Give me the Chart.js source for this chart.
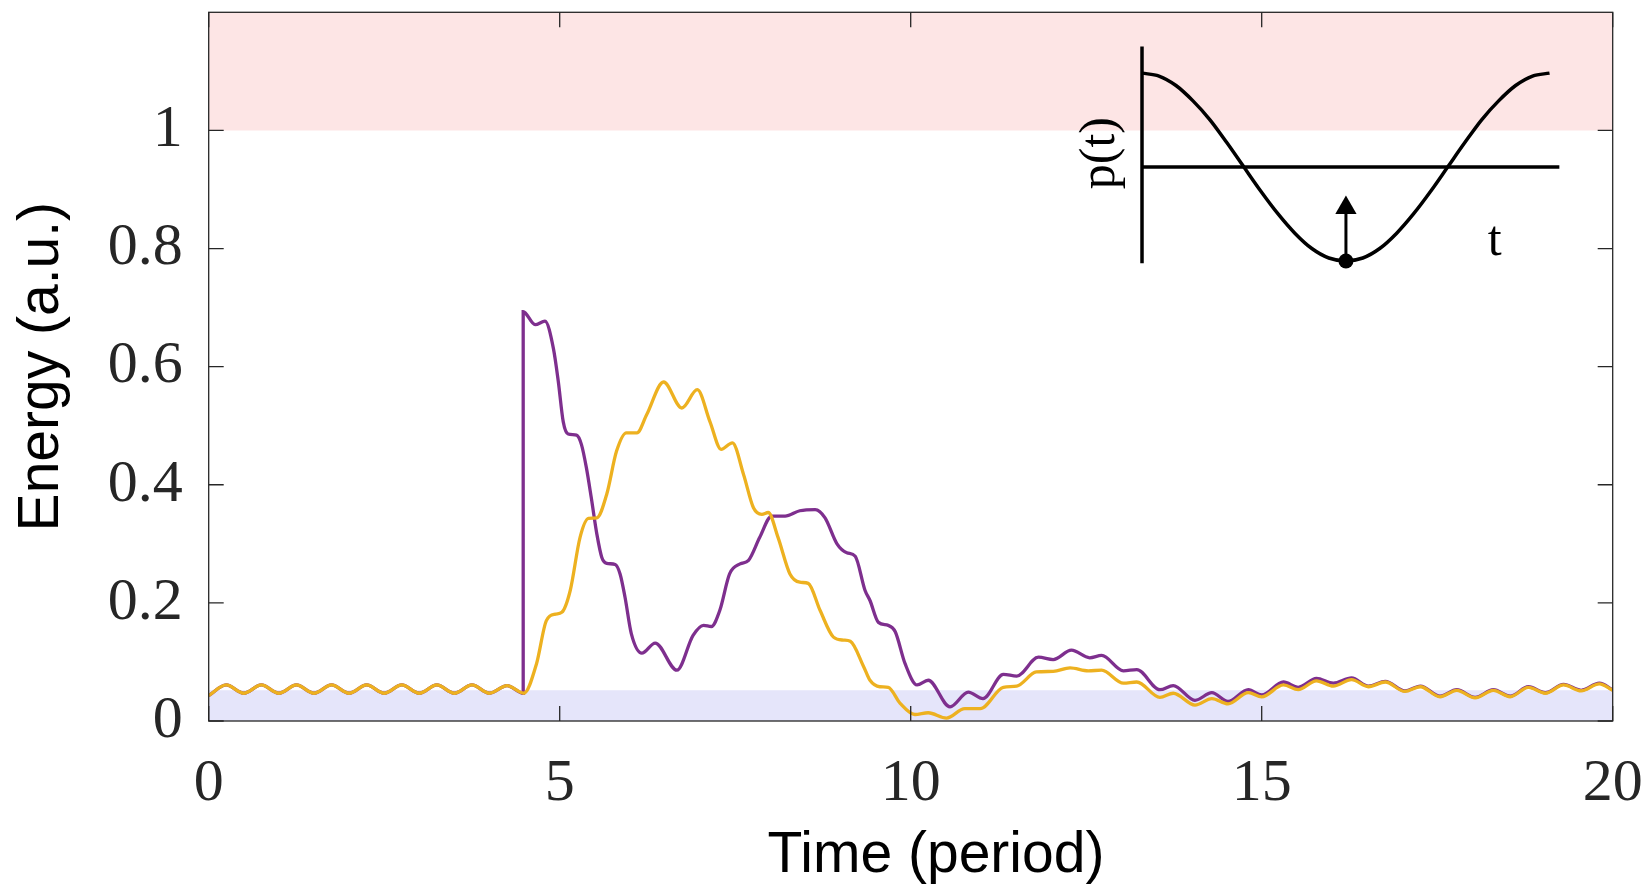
<!DOCTYPE html>
<html><head><meta charset="utf-8">
<script src="https://cdn.jsdelivr.net/npm/chart.js@4.4.0/dist/chart.umd.min.js"></script>
<style>html,body{margin:0;padding:0;background:#fff;}canvas{display:block;}</style>
</head><body>
<canvas id="c" width="1650" height="886"></canvas>
<script>
// ---- data ----
const xTicks = [0, 5, 10, 15, 20];
const yTicks = [0, 0.2, 0.4, 0.6, 0.8, 1];
const xLabel = 'Time (period)';
const yLabel = 'Energy (a.u.)';

const purpleTime = [0,0.25,0.5,0.75,1,1.25,1.5,1.75,2,2.25,2.5,2.75,3,3.25,3.5,3.75,4,4.25,4.48,
 4.48,4.65,4.79,4.91,4.98,5.05,5.12,5.24,5.31,5.38,5.45,5.53,5.60,5.67,5.79,5.86,5.93,6.02,6.17,6.36,
 6.67,6.90,7.05,7.16,7.28,7.42,7.57,7.69,7.85,8.02,8.21,8.42,8.64,8.78,8.95,9.09,9.21,9.35,9.42,9.54,
 9.68,9.78,9.92,10.09,10.25,10.56,10.82,11.03,11.32,11.51,11.82,12.03,12.29,12.55,12.72,13.03,13.22,13.55,13.74,14.05,
 14.29,14.52,14.81,15.00,15.31,15.52,15.78,16.02,16.28,16.52,16.76,17.04,17.26,17.54,17.78,18.04,18.30,18.54,18.80,19.04,
 19.30,19.55,19.81,20];
const purpleEnergy = [0.043,0.061,0.047,0.061,0.047,0.061,0.047,0.061,0.047,0.061,0.047,0.061,0.047,0.061,0.047,0.061,0.047,0.060,0.047,
 0.693,0.671,0.677,0.631,0.575,0.507,0.486,0.484,0.468,0.429,0.378,0.316,0.277,0.267,0.265,0.249,0.210,0.148,0.115,0.132,
 0.086,0.145,0.162,0.160,0.187,0.249,0.266,0.272,0.311,0.347,0.347,0.356,0.358,0.344,0.300,0.285,0.279,0.221,0.204,0.167,
 0.162,0.151,0.097,0.061,0.069,0.024,0.049,0.038,0.079,0.076,0.108,0.104,0.120,0.107,0.111,0.085,0.087,0.053,0.060,0.035,
 0.048,0.033,0.053,0.044,0.066,0.057,0.072,0.064,0.073,0.059,0.067,0.051,0.059,0.042,0.053,0.040,0.053,0.042,0.058,0.048,
 0.062,0.052,0.064,0.053];

const yellowTime = [0,0.25,0.5,0.75,1,1.25,1.5,1.75,2,2.25,2.5,2.75,3,3.25,3.5,3.75,4,4.25,4.49,
 4.67,4.81,4.94,5.03,5.15,5.29,5.41,5.53,5.67,5.81,5.95,6.10,6.24,6.48,6.74,6.96,7.14,7.30,7.46,7.62,
 7.76,7.88,7.97,8.11,8.28,8.42,8.54,8.71,8.90,9.04,9.14,9.33,9.42,9.56,9.68,9.85,10.06,10.25,10.51,10.77,
 10.99,11.32,11.51,11.79,12.03,12.27,12.53,12.72,13.03,13.22,13.55,13.74,14.05,14.29,14.52,14.81,15.00,15.31,15.52,15.78,
 16.02,16.28,16.52,16.76,17.04,17.26,17.54,17.78,18.04,18.30,18.54,18.80,19.04,19.30,19.55,19.81,20];
const yellowEnergy = [0.043,0.061,0.047,0.061,0.047,0.061,0.047,0.061,0.047,0.061,0.047,0.061,0.047,0.061,0.047,0.061,0.047,0.060,0.047,
 0.097,0.170,0.181,0.184,0.221,0.311,0.343,0.344,0.384,0.457,0.488,0.488,0.519,0.574,0.530,0.561,0.507,0.460,0.471,0.417,
 0.361,0.350,0.353,0.311,0.249,0.235,0.233,0.187,0.142,0.137,0.135,0.092,0.069,0.058,0.057,0.030,0.011,0.014,0.005,0.021,
 0.021,0.057,0.059,0.083,0.084,0.090,0.085,0.086,0.064,0.066,0.040,0.047,0.027,0.038,0.029,0.048,0.041,0.061,0.053,0.068,
 0.059,0.070,0.058,0.066,0.050,0.058,0.041,0.052,0.039,0.052,0.041,0.057,0.047,0.061,0.051,0.063,0.052];

// shaded bands (energy limits)
const highBand = [1, 1.2];
const lowBand = [0, 0.052];

// inset schematic p(t)
const insetTime = [13.295,13.537,13.779,14.021,14.263,14.505,14.746,14.988,15.230,15.472,15.714,15.956,16.198,
 16.440,16.681,16.923,17.165,17.407,17.649,17.891,18.133,18.375,18.617,18.858,19.100];
const insetSignal = [1.097,1.092,1.076,1.050,1.018,0.979,0.938,0.897,0.859,0.826,0.800,0.784,0.779,
 0.784,0.800,0.826,0.859,0.897,0.938,0.979,1.018,1.050,1.076,1.092,1.097];
const insetVAxisT = [13.295, 13.295];
const insetVAxisY = [0.775, 1.142];
const insetHAxisT = [13.295, 19.24];
const insetHAxisY = [0.938, 0.938];
const kickT = [16.2, 16.2];
const kickY = [0.779, 0.86];
const kickHeadY = 0.869;

const pts = (xs, ys) => xs.map((x, i) => ({x, y: ys[i]}));

const frame = {
  id: 'frame',
  afterDatasetsDraw(chart) {
    const {ctx, chartArea: a, scales: {x, y}} = chart;
    ctx.save();
    ctx.strokeStyle = '#262626';
    ctx.lineWidth = 1.3;
    ctx.strokeRect(a.left, a.top, a.right - a.left, a.bottom - a.top);
    const L = 15;
    ctx.beginPath();
    xTicks.forEach(v => { const p = x.getPixelForValue(v);
      ctx.moveTo(p, a.bottom); ctx.lineTo(p, a.bottom - L);
      ctx.moveTo(p, a.top); ctx.lineTo(p, a.top + L); });
    yTicks.forEach(v => { const p = y.getPixelForValue(v);
      ctx.moveTo(a.left, p); ctx.lineTo(a.left + L, p);
      ctx.moveTo(a.right, p); ctx.lineTo(a.right - L, p); });
    ctx.stroke();
    // inset labels
    ctx.fillStyle = '#000';
    ctx.font = '50px "Liberation Serif"';
    ctx.textAlign = 'center';
    ctx.textBaseline = 'alphabetic';
    ctx.save();
    ctx.translate(x.getPixelForValue(12.896), y.getPixelForValue(0.9616));
    ctx.rotate(-Math.PI / 2);
    ctx.fillText('p(t)', 0, 0);
    ctx.restore();
    ctx.fillText('t', x.getPixelForValue(18.32), y.getPixelForValue(0.789));
    // x-axis title
    ctx.font = '57px "Liberation Sans"';
    ctx.fillText(xLabel, x.getPixelForValue(10.36), chart.height - 14);
    ctx.restore();
  }
};

const black = '#000000';
new Chart(document.getElementById('c'), {
  type: 'line',
  data: {
    datasets: [
      {data: pts(yellowTime, yellowEnergy), borderColor: '#EDB120', borderWidth: 3.3, pointRadius: 0, cubicInterpolationMode: 'monotone', order: 1},
      {data: pts(purpleTime, purpleEnergy), borderColor: '#7E2F8E', borderWidth: 3.3, pointRadius: 0, cubicInterpolationMode: 'monotone', order: 2},
      {data: pts(insetTime, insetSignal), borderColor: black, borderWidth: 3.5, pointRadius: 0, cubicInterpolationMode: 'monotone', order: 0},
      {data: pts(insetVAxisT, insetVAxisY), borderColor: black, borderWidth: 3.5, pointRadius: 0, order: 0},
      {data: pts(insetHAxisT, insetHAxisY), borderColor: black, borderWidth: 3.5, pointRadius: 0, order: 0},
      {data: pts(kickT, kickY), borderColor: black, borderWidth: 3, pointRadius: [7.5, 0], pointBackgroundColor: black, pointBorderWidth: 0, order: 0},
      {data: [{x: kickT[0], y: kickHeadY}], showLine: false, pointStyle: 'triangle', pointRadius: 12.3, pointBackgroundColor: black, pointBorderColor: black, pointBorderWidth: 0, order: 0},
      {data: [{x: 0, y: highBand[1]}, {x: 20, y: highBand[1]}], borderWidth: 0, pointRadius: 0, backgroundColor: '#FDE5E5', fill: {value: highBand[0]}, order: 10},
      {data: [{x: 0, y: lowBand[1]}, {x: 20, y: lowBand[1]}], borderWidth: 0, pointRadius: 0, backgroundColor: '#E5E5FA', fill: {value: lowBand[0]}, order: 10}
    ]
  },
  options: {
    responsive: false,
    animation: false,
    devicePixelRatio: 1,
    layout: {padding: {top: 9, right: 37.3, bottom: 0, left: 0}},
    plugins: {legend: {display: false}, tooltip: {enabled: false}},
    scales: {
      x: {
        type: 'linear', min: 0, max: 20,
        grid: {display: false}, border: {display: false},
        afterBuildTicks: s => { s.ticks = xTicks.map(v => ({value: v})); },
        afterFit: s => { s.height = 165; s.paddingLeft = 0; s.paddingRight = 0; },
        ticks: {padding: 19, color: '#262626', font: {family: 'Liberation Serif', size: 60}, maxRotation: 0, callback: v => String(v)}
      },
      y: {
        type: 'linear', min: 0, max: 1.2,
        grid: {display: false}, border: {display: false},
        afterBuildTicks: s => { s.ticks = yTicks.map(v => ({value: v})); },
        afterFit: s => { s.width = 208.7; s.paddingTop = 0; s.paddingBottom = 0; },
        ticks: {padding: 18, color: '#262626', font: {family: 'Liberation Serif', size: 60}, callback: v => String(v)},
        title: {display: true, text: yLabel, color: '#000', font: {family: 'Liberation Sans', size: 57}, padding: {top: 8, bottom: 0}}
      }
    }
  },
  plugins: [frame]
});
</script>
</body></html>
